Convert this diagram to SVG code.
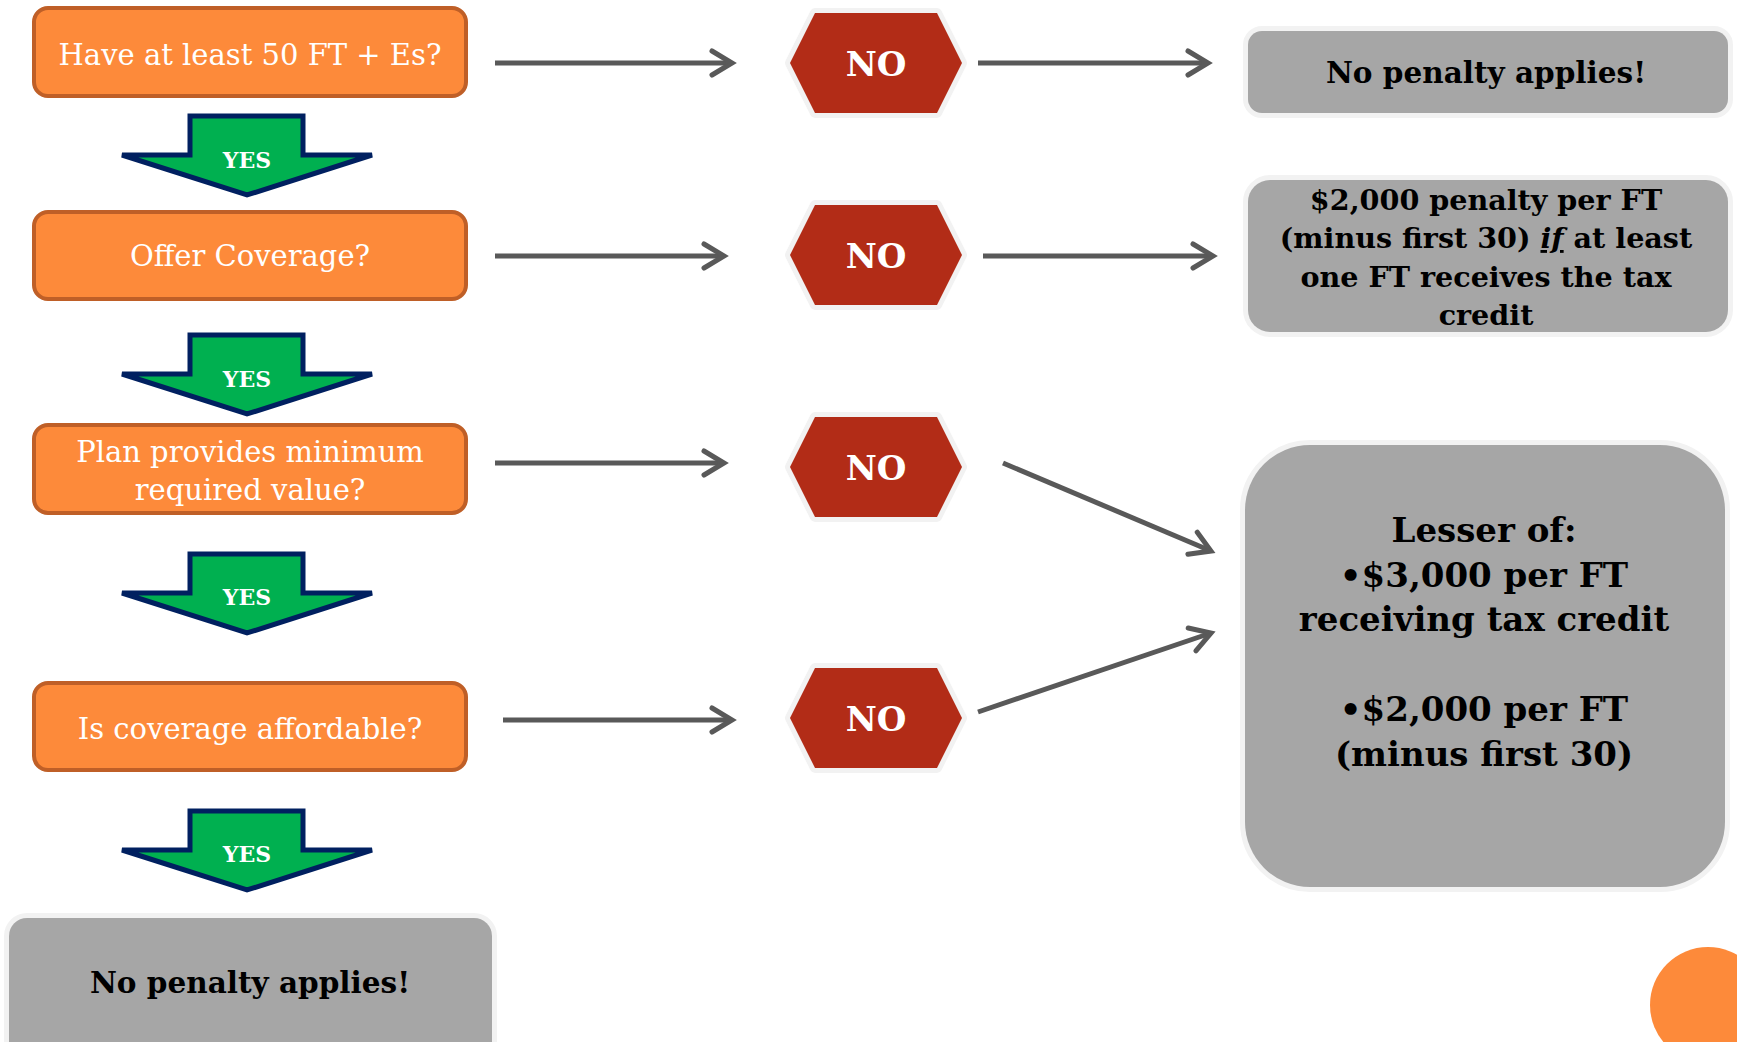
<svg xmlns="http://www.w3.org/2000/svg" width="1737" height="1042" viewBox="0 0 1737 1042">
<style>
.q{fill:#FD8A3A;stroke:#BF5F27;stroke-width:4}
.qt{font-family:"DejaVu Serif",serif;font-size:29px;fill:#fff;text-anchor:middle}
.yes{fill:#00B050;stroke:#002060;stroke-width:5;stroke-linejoin:miter}
.yt{font-family:"DejaVu Serif",serif;font-size:22px;font-weight:bold;fill:#fff;text-anchor:middle}
.hex{fill:#B22C17;stroke:#F2F2F2;stroke-width:10;paint-order:stroke;stroke-linejoin:round}
.nt{font-family:"DejaVu Serif",serif;font-size:34px;font-weight:bold;fill:#fff;text-anchor:middle}
.g{fill:#A6A6A6;stroke:#F2F2F2;stroke-width:10;paint-order:stroke}
.gt{font-family:"DejaVu Serif",serif;font-weight:bold;fill:#000;text-anchor:middle}
.c{stroke:#595959;stroke-width:5;fill:none}
</style>
<defs>
<marker id="ah" markerUnits="userSpaceOnUse" viewBox="-30 -20 40 40" markerWidth="40" markerHeight="40" refX="0" refY="0" orient="auto">
<path d="M-20,-12 L0,0 L-20,12" fill="none" stroke="#595959" stroke-width="5" stroke-linecap="round" stroke-linejoin="miter"/>
</marker>
</defs>
<rect width="1737" height="1042" fill="#fff"/>
<g id="connectors">
<line class="c" x1="495" y1="63" x2="732" y2="63" marker-end="url(#ah)"/>
<line class="c" x1="978" y1="63" x2="1208" y2="63" marker-end="url(#ah)"/>
<line class="c" x1="495" y1="256" x2="724" y2="256" marker-end="url(#ah)"/>
<line class="c" x1="983" y1="256" x2="1213" y2="256" marker-end="url(#ah)"/>
<line class="c" x1="495" y1="463" x2="724" y2="463" marker-end="url(#ah)"/>
<line class="c" x1="1003" y1="463" x2="1211" y2="551" marker-end="url(#ah)"/>
<line class="c" x1="503" y1="720" x2="732" y2="720" marker-end="url(#ah)"/>
<line class="c" x1="978" y1="712" x2="1211" y2="633" marker-end="url(#ah)"/>
</g>
<g id="q1"><rect class="q" x="34" y="8" width="432" height="88" rx="14"/><text class="qt" x="250" y="65">Have at least 50 FT + Es?</text></g>
<g id="q2"><rect class="q" x="34" y="212" width="432" height="87" rx="14"/><text class="qt" x="250" y="266">Offer Coverage?</text></g>
<g id="q3"><rect class="q" x="34" y="425" width="432" height="88" rx="14"/><text class="qt" x="250" y="462">Plan provides minimum</text><text class="qt" x="250" y="500">required value?</text></g>
<g id="q4"><rect class="q" x="34" y="683" width="432" height="87" rx="14"/><text class="qt" x="250" y="739">Is coverage affordable?</text></g>
<g id="yes1"><polygon class="yes" points="190,116 303,116 303,155 372,155 247,195 122,155 190,155"/><text class="yt" x="247" y="168">YES</text></g>
<g id="yes2"><polygon class="yes" points="190,335 303,335 303,374 372,374 247,414 122,374 190,374"/><text class="yt" x="247" y="387">YES</text></g>
<g id="yes3"><polygon class="yes" points="190,554 303,554 303,593 372,593 247,633 122,593 190,593"/><text class="yt" x="247" y="605">YES</text></g>
<g id="yes4"><polygon class="yes" points="190,811 303,811 303,850 372,850 247,890 122,850 190,850"/><text class="yt" x="247" y="862">YES</text></g>
<g id="no1"><polygon class="hex" points="790,63 815,13 937,13 962,63 937,113 815,113"/><text class="nt" x="876" y="76">NO</text></g>
<g id="no2"><polygon class="hex" points="790,255 815,205 937,205 962,255 937,305 815,305"/><text class="nt" x="876" y="268">NO</text></g>
<g id="no3"><polygon class="hex" points="790,467 815,417 937,417 962,467 937,517 815,517"/><text class="nt" x="876" y="480">NO</text></g>
<g id="no4"><polygon class="hex" points="790,718 815,668 937,668 962,718 937,768 815,768"/><text class="nt" x="876" y="731">NO</text></g>
<g id="r1"><rect class="g" x="1248" y="31" width="480" height="82" rx="14"/><text class="gt" x="1486" y="83" font-size="29.5">No penalty applies!</text></g>
<g id="r2"><rect class="g" x="1248" y="180" width="480" height="152" rx="22"/>
<text class="gt" font-size="28.6" x="1486" y="210">$2,000 penalty per FT</text>
<text class="gt" font-size="28.6" x="1486" y="248">(minus first 30) <tspan font-style="italic" text-decoration="underline">if</tspan> at least</text>
<text class="gt" font-size="28.6" x="1486" y="287">one FT receives the tax</text>
<text class="gt" font-size="28.6" x="1486" y="325">credit</text></g>
<g id="r3"><rect class="g" x="1245" y="445" width="480" height="442" rx="65"/>
<text class="gt" font-size="34" x="1484" y="542">Lesser of:</text>
<text class="gt" font-size="34" x="1484" y="587">•$3,000 per FT</text>
<text class="gt" font-size="34" x="1484" y="631">receiving tax credit</text>
<text class="gt" font-size="34" x="1484" y="721">•$2,000 per FT</text>
<text class="gt" font-size="34" x="1484" y="766">(minus first 30)</text></g>
<g id="r4"><rect class="g" x="9" y="918" width="483" height="150" rx="18"/><text class="gt" font-size="29.5" x="250" y="993">No penalty applies!</text></g>
<circle cx="1708" cy="1005" r="58" fill="#FD8A3A"/>
</svg>
